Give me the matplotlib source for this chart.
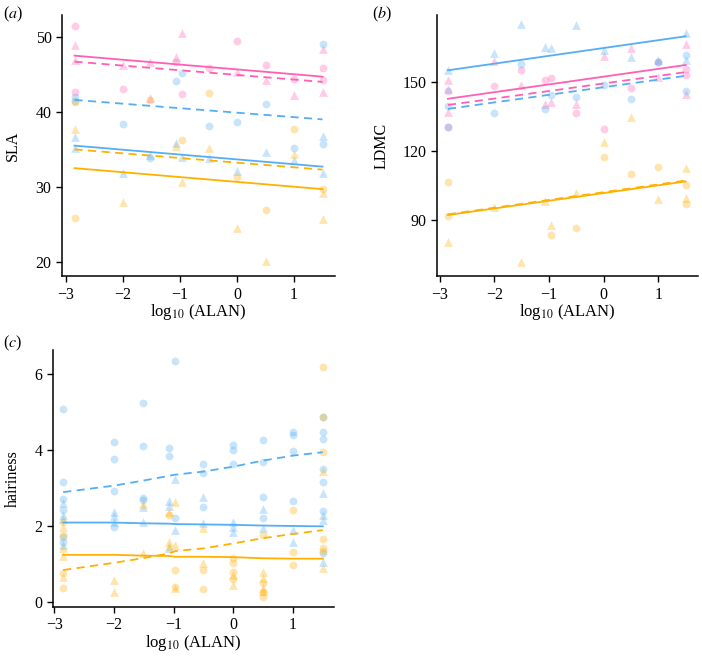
import matplotlib
matplotlib.use("Agg")
import matplotlib.pyplot as plt

plt.rcParams['font.family'] = ['Liberation Serif', 'DejaVu Serif']
plt.rcParams['mathtext.fontset'] = 'stix'
plt.rcParams['axes.unicode_minus'] = True

PINK = '#FF5FB4'
BLUE = '#55AEF5'
ORANGE = '#FFB000'

# ---------------- (a) SLA ----------------
sla_pink_circ = [(-2.85, 51.4), (-2.85, 42.6), (-2.0, 43.0), (-1.07, 46.6), (-0.97, 42.4),
                 (-0.5, 45.8), (0.0, 49.5), (0.5, 46.2), (1.0, 44.4), (1.5, 45.8), (1.5, 44.2)]
sla_pink_tri = [(-2.85, 48.9), (-2.85, 46.9), (-2.0, 46.2), (-1.52, 46.6), (-1.52, 41.8),
                (-1.07, 47.3), (-0.97, 50.5), (0.0, 45.3), (0.5, 44.3), (1.0, 42.2),
                (1.5, 48.4), (1.5, 42.6)]
sla_blue_circ = [(-2.85, 42.0), (-2.85, 41.5), (-2.0, 38.4), (-1.52, 33.9), (-1.07, 44.1),
                 (-0.97, 45.2), (-0.5, 38.1), (0.0, 38.7), (0.5, 41.1), (1.0, 35.2),
                 (1.5, 49.0), (1.5, 35.7)]
sla_blue_tri = [(-2.85, 36.6), (-2.85, 35.2), (-2.0, 31.8), (-1.52, 34.3), (-1.07, 35.9),
                (-0.97, 34.0), (-0.5, 33.9), (0.0, 32.1), (0.5, 34.6), (1.0, 33.6),
                (1.5, 36.8), (1.5, 31.9)]
sla_orange_circ = [(-2.85, 41.3), (-2.85, 25.9), (-1.52, 41.6), (-0.97, 36.2), (-0.5, 42.5),
                   (0.0, 31.3), (0.5, 26.9), (1.0, 37.7), (1.5, 29.7)]
sla_orange_tri = [(-2.85, 37.7), (-2.0, 28.0), (-1.07, 35.4), (-0.97, 30.7), (-0.5, 35.2),
                  (0.0, 24.5), (0.5, 20.1), (1.0, 34.4), (1.5, 29.2), (1.5, 25.7)]
sla_fit_x = [-2.85, 1.5]
sla_pink_solid = [47.5, 44.7]
sla_pink_dash = [46.7, 44.0]
sla_blue_dash = [41.6, 39.0]
sla_blue_solid = [35.5, 32.7]
sla_orange_dash = [35.0, 32.3]
sla_orange_solid = [32.5, 29.7]

# ---------------- (b) LDMC ----------------
ldmc_pink_circ = [(-2.85, 146.0), (-2.85, 130.3), (-2.0, 148.2), (-1.52, 155.0), (-1.07, 150.6),
                  (-0.97, 151.6), (-0.5, 136.3), (0.0, 129.4), (0.5, 147.2), (1.0, 158.5),
                  (1.5, 155.6), (1.5, 153.1)]
ldmc_pink_tri = [(-2.85, 150.9), (-2.85, 137.0), (-2.0, 158.9), (-1.52, 148.7), (-1.07, 140.2),
                 (-0.97, 141.1), (-0.5, 140.2), (0.0, 161.1), (0.5, 164.5), (1.0, 152.1),
                 (1.5, 166.6), (1.5, 144.7)]
ldmc_blue_circ = [(-2.85, 139.5), (-2.85, 130.3), (-2.0, 136.6), (-1.52, 157.9), (-1.07, 138.2),
                  (-0.97, 144.3), (-0.5, 143.3), (0.0, 148.7), (0.5, 142.4), (1.0, 158.5),
                  (1.5, 161.8), (1.5, 145.8)]
ldmc_blue_tri = [(-2.85, 155.3), (-2.85, 147.0), (-2.0, 162.6), (-1.52, 175.0), (-1.07, 165.0),
                 (-0.97, 164.8), (-0.5, 174.5), (0.0, 163.7), (0.5, 160.8), (1.0, 159.6),
                 (1.5, 171.3), (1.5, 159.3)]
ldmc_orange_circ = [(-2.85, 106.3), (-2.85, 91.7), (-0.97, 83.4), (-0.5, 86.2), (0.0, 117.3),
                    (0.5, 110.0), (1.0, 112.9), (1.5, 104.9), (1.5, 96.6)]
ldmc_orange_tri = [(-2.85, 80.4), (-2.0, 95.4), (-1.52, 71.6), (-1.07, 98.3), (-0.97, 87.8),
                   (-0.5, 101.5), (0.0, 123.6), (0.5, 134.5), (1.0, 98.8), (1.5, 112.6),
                   (1.5, 99.3)]
ldmc_fit_x = [-2.85, 1.5]
ldmc_blue_solid = [155.0, 169.8]
ldmc_pink_solid = [142.6, 157.3]
ldmc_pink_dash = [139.9, 154.2]
ldmc_blue_dash = [138.2, 152.6]
ldmc_orange_solid = [92.0, 106.6]
ldmc_orange_dash = [92.3, 107.0]

# ---------------- (c) hairiness ----------------
hair_blue_circ = [(-2.85, 5.08), (-2.85, 3.15), (-2.85, 2.71), (-2.85, 2.43), (-2.85, 1.70),
                  (-2.85, 1.59), (-2.0, 4.22), (-2.0, 3.75), (-2.0, 2.92), (-2.0, 1.98),
                  (-1.52, 5.23), (-1.52, 4.11), (-1.52, 2.74), (-1.52, 2.68), (-1.07, 4.06),
                  (-1.07, 3.85), (-0.97, 6.34), (-0.97, 2.20), (-0.5, 3.63), (-0.5, 3.39),
                  (-0.5, 2.51), (0.0, 4.13), (0.0, 4.00), (0.0, 3.63), (0.5, 4.27),
                  (0.5, 3.67), (0.5, 2.77), (0.5, 2.20), (1.0, 4.47), (1.0, 4.40),
                  (1.0, 3.97), (1.0, 2.66), (1.5, 4.86), (1.5, 4.46), (1.5, 4.29),
                  (1.5, 3.50), (1.5, 3.15), (1.5, 2.39), (1.5, 1.29)]
hair_blue_tri = [(-2.85, 2.60), (-2.85, 2.29), (-2.85, 2.18), (-2.85, 1.50), (-2.0, 2.38),
                 (-2.0, 2.25), (-2.0, 2.10), (-1.52, 2.50), (-1.52, 2.10), (-1.07, 2.66),
                 (-1.07, 2.52), (-1.07, 1.43), (-0.97, 3.23), (-0.97, 1.89), (-0.5, 2.77),
                 (-0.5, 2.07), (0.0, 2.11), (0.0, 1.98), (0.0, 1.83), (0.5, 2.45),
                 (0.5, 1.94), (1.0, 1.89), (1.0, 1.59), (1.5, 2.88), (1.5, 2.30),
                 (1.5, 2.15), (1.5, 1.06)]
hair_orange_circ = [(-2.85, 2.11), (-2.85, 1.76), (-2.85, 0.75), (-2.85, 0.38), (-1.07, 2.29),
                    (-0.97, 0.83), (-0.97, 0.40), (-0.5, 0.83), (-0.5, 0.34), (0.0, 1.15),
                    (0.0, 1.03), (0.0, 0.80), (0.0, 0.60), (0.5, 1.76), (0.5, 0.50),
                    (0.5, 0.25), (0.5, 0.13), (1.0, 2.42), (1.0, 1.31), (1.0, 0.96),
                    (1.5, 6.19), (1.5, 4.86), (1.5, 3.94), (1.5, 1.66), (1.5, 1.41),
                    (1.5, 1.35)]
hair_orange_tri = [(-2.85, 1.96), (-2.85, 1.41), (-2.85, 1.22), (-2.85, 0.67), (-2.0, 0.58),
                   (-2.0, 0.27), (-1.52, 2.57), (-1.52, 1.28), (-1.07, 2.38), (-1.07, 1.57),
                   (-1.07, 1.47), (-0.97, 2.64), (-0.97, 1.50), (-0.97, 0.38), (-0.5, 1.94),
                   (-0.5, 1.02), (0.0, 0.72), (0.0, 0.46), (0.5, 0.80), (0.5, 0.62),
                   (0.5, 0.36), (0.5, 0.30), (1.5, 3.45), (1.5, 0.90)]
hair_fit_x = [-2.85, -2.0, -1.52, -1.07, -0.97, -0.5, 0.0, 0.5, 1.0, 1.5]
hair_blue_dash = [2.89, 3.06, 3.19, 3.32, 3.35, 3.43, 3.56, 3.72, 3.85, 3.94]
hair_blue_solid = [2.09, 2.09, 2.07, 2.06, 2.05, 2.04, 2.03, 2.01, 2.00, 1.99]
hair_orange_dash = [0.84, 1.03, 1.15, 1.28, 1.34, 1.41, 1.54, 1.68, 1.79, 1.89]
hair_orange_solid = [1.24, 1.24, 1.22, 1.21, 1.19, 1.19, 1.18, 1.15, 1.14, 1.14]


def draw_points(ax, pts, color, marker):
    xs = [p[0] for p in pts]
    ys = [p[1] for p in pts]
    size = 32 if marker == 'o' else 40
    ax.scatter(xs, ys, s=size, marker=marker, color=color, alpha=0.32,
               linewidths=0, zorder=2)


def draw_fit(ax, xs, ys, color, dashed):
    ax.plot(xs, ys, color=color, lw=1.3, ls=(0, (4.5, 3)) if dashed else '-',
            zorder=3)


def style_axes(ax, xlim, ylim, yticks, ylabel, ylab_x):
    ax.set_xlim(*xlim)
    ax.set_ylim(*ylim)
    ax.set_xticks([-3, -2, -1, 0, 1])
    ax.set_yticks(yticks)
    for s in ['top', 'right']:
        ax.spines[s].set_visible(False)
    for s in ['left', 'bottom']:
        ax.spines[s].set_linewidth(1.1)
    ax.tick_params(direction='out', length=4.5, width=1, labelsize=11.5, pad=3)
    ax.set_xlabel(r'log$_{10}$ (ALAN)', fontsize=12)
    ax.set_ylabel(ylabel, fontsize=11.5)
    ax.yaxis.set_label_coords(ylab_x, 0.5)
    ax.xaxis.set_label_coords(0.5, -0.1)


fig = plt.figure(figsize=(7.02, 6.59), dpi=100)

# panel (a)
ax_a = fig.add_axes([0.0883, 0.581, 0.389, 0.396])
draw_points(ax_a, sla_pink_circ, PINK, 'o')
draw_points(ax_a, sla_pink_tri, PINK, '^')
draw_points(ax_a, sla_blue_circ, BLUE, 'o')
draw_points(ax_a, sla_blue_tri, BLUE, '^')
draw_points(ax_a, sla_orange_circ, ORANGE, 'o')
draw_points(ax_a, sla_orange_tri, ORANGE, '^')
draw_fit(ax_a, sla_fit_x, sla_pink_solid, PINK, False)
draw_fit(ax_a, sla_fit_x, sla_pink_dash, PINK, True)
draw_fit(ax_a, sla_fit_x, sla_blue_dash, BLUE, True)
draw_fit(ax_a, sla_fit_x, sla_blue_solid, BLUE, False)
draw_fit(ax_a, sla_fit_x, sla_orange_dash, ORANGE, True)
draw_fit(ax_a, sla_fit_x, sla_orange_solid, ORANGE, False)
style_axes(ax_a, (-3.07, 1.72), (18.1, 52.9), [20, 30, 40, 50], 'SLA', -0.152)

# panel (b)
ax_b = fig.add_axes([0.6225, 0.581, 0.372, 0.396])
draw_points(ax_b, ldmc_pink_circ, PINK, 'o')
draw_points(ax_b, ldmc_pink_tri, PINK, '^')
draw_points(ax_b, ldmc_blue_circ, BLUE, 'o')
draw_points(ax_b, ldmc_blue_tri, BLUE, '^')
draw_points(ax_b, ldmc_orange_circ, ORANGE, 'o')
draw_points(ax_b, ldmc_orange_tri, ORANGE, '^')
draw_fit(ax_b, ldmc_fit_x, ldmc_blue_solid, BLUE, False)
draw_fit(ax_b, ldmc_fit_x, ldmc_pink_solid, PINK, False)
draw_fit(ax_b, ldmc_fit_x, ldmc_pink_dash, PINK, True)
draw_fit(ax_b, ldmc_fit_x, ldmc_blue_dash, BLUE, True)
draw_fit(ax_b, ldmc_fit_x, ldmc_orange_solid, ORANGE, False)
draw_fit(ax_b, ldmc_fit_x, ldmc_orange_dash, ORANGE, True)
style_axes(ax_b, (-3.05, 1.73), (65.4, 179.0), [90, 120, 150], 'LDMC', -0.18)

# panel (c)
ax_c = fig.add_axes([0.0755, 0.079, 0.4005, 0.39])
draw_points(ax_c, hair_blue_circ, BLUE, 'o')
draw_points(ax_c, hair_blue_tri, BLUE, '^')
draw_points(ax_c, hair_orange_circ, ORANGE, 'o')
draw_points(ax_c, hair_orange_tri, ORANGE, '^')
draw_fit(ax_c, hair_fit_x, hair_blue_dash, BLUE, True)
draw_fit(ax_c, hair_fit_x, hair_blue_solid, BLUE, False)
draw_fit(ax_c, hair_fit_x, hair_orange_dash, ORANGE, True)
draw_fit(ax_c, hair_fit_x, hair_orange_solid, ORANGE, False)
style_axes(ax_c, (-3.02, 1.69), (-0.13, 6.63), [0, 2, 4, 6], 'hairiness', -0.115)

fig.text(0.004, 0.993, r'($\mathit{a}$)', fontsize=11.5, va='top', ha='left')
fig.text(0.530, 0.993, r'($\mathit{b}$)', fontsize=11.5, va='top', ha='left')
fig.text(0.004, 0.494, r'($\mathit{c}$)', fontsize=11.5, va='top', ha='left')

fig.savefig('out.png', dpi=100)
